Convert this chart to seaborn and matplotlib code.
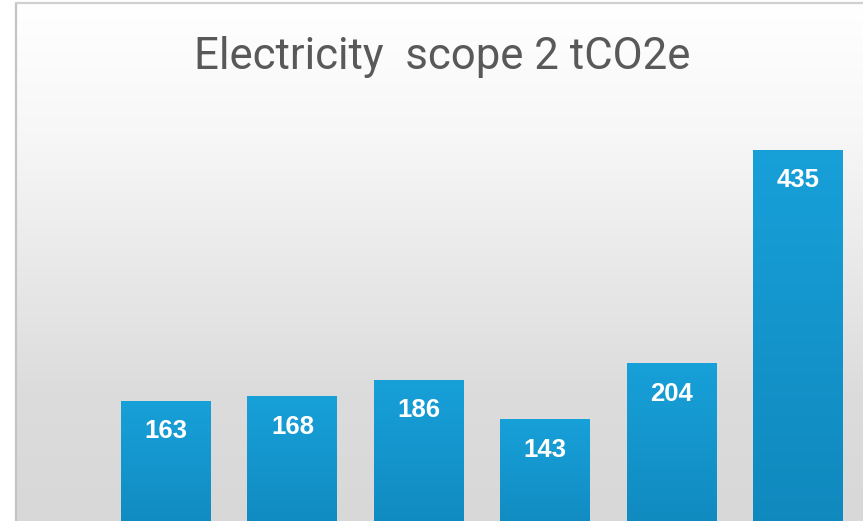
import numpy as np
import pandas as pd
import matplotlib
matplotlib.use("Agg")
import matplotlib.pyplot as plt
import seaborn as sns
from matplotlib.colors import LinearSegmentedColormap

categories = ["A", "B", "C", "D", "E", "F"]
values = [163, 168, 186, 143, 204, 435]
title = "Electricity  scope 2 tCO2e"

W, H = 863, 521
DPI = 100
sns.set_theme(style="white")
fig = plt.figure(figsize=(W / DPI, H / DPI), dpi=DPI)
fig.patch.set_facecolor("white")

# chart background panel (gradient) with border
bg = fig.add_axes([15 / W, 0, 1 - 15 / W, 1 - 3 / H])
bg.set_axis_off()
grad = np.linspace(0, 1, 256).reshape(-1, 1)
bgcmap = LinearSegmentedColormap.from_list(
    "bg", [(0, "#ffffff"), (0.25, "#f7f7f7"), (0.75, "#dcdcdc"), (1.0, "#d8d8d8")])
bg.imshow(grad, aspect="auto", cmap=bgcmap, extent=[0, 1, 0, 1], origin="upper")
bg.set_xlim(0, 1)
bg.set_ylim(0, 1)
fig.add_artist(plt.Line2D([16 / W, 16 / W], [0, 1 - 3 / H], color="#c4c4c4", lw=1.6))
fig.add_artist(plt.Line2D([16 / W, 1], [1 - 3 / H, 1 - 3 / H], color="#d0d0d0", lw=1.6))

# main axes: value 0 at pixel y=551.4 (below figure), 0.923 px/unit
px_per_unit = 0.923
base_px = 551.4
ax_bottom = (H - base_px) / H
ax_height = base_px / H
ymax = base_px / px_per_unit
left_px = 166 - 63.2
right_px = 798 + 63.2
ax = fig.add_axes([left_px / W, ax_bottom, (right_px - left_px) / W, ax_height])
ax.patch.set_alpha(0)

df = pd.DataFrame({"cat": categories, "val": values})
sns.barplot(data=df, x="cat", y="val", ax=ax, color="#1597d0", width=0.712,
            saturation=1, edgecolor="none")
ax.set_ylim(0, ymax)
ax.set_xlim(-0.5, len(categories) - 0.5)
ax.set_axis_off()

barcmap = LinearSegmentedColormap.from_list("bar", ["#18a0d9", "#0f87bc"])
for p in ax.patches:
    x0, w = p.get_x(), p.get_width()
    h = p.get_height()
    im = ax.imshow(grad, aspect="auto", cmap=barcmap,
                   extent=[x0, x0 + w, 0, h], origin="upper", zorder=p.get_zorder() + 0.1)
    im.set_clip_path(p)
    ax.text(x0 + w / 2, h - 30.5 / px_per_unit, f"{int(round(h))}", ha="center", va="center",
            color="white", fontsize=18.5, fontweight="bold", family="Liberation Sans",
            zorder=5)
ax.set_xlim(-0.5, len(categories) - 0.5)
ax.set_ylim(0, ymax)

fig.text(442 / W, 1 - 56.5 / H, title, ha="center", va="center", color="#595959",
         fontsize=31.5, family=["Roboto", "DejaVu Sans"])

fig.savefig("out.png", dpi=DPI)
